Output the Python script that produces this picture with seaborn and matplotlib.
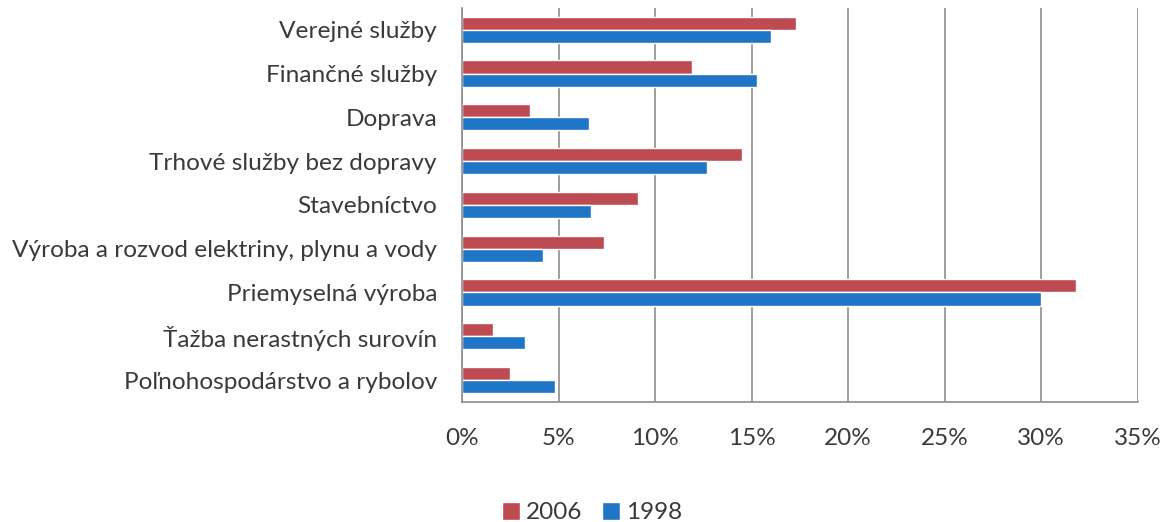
import seaborn as sns
import pandas as pd
import matplotlib.pyplot as plt
from matplotlib.ticker import PercentFormatter, MultipleLocator, FixedLocator

# data (percent share)
categories = [
    "Verejné služby",
    "Finančné služby",
    "Doprava",
    "Trhové služby bez dopravy",
    "Stavebníctvo",
    "Výroba a rozvod elektriny, plynu a vody",
    "Priemyselná výroba",
    "Ťažba nerastných surovín",
    "Poľnohospodárstvo a rybolov",
]
years = ["2006", "1998"]
share_2006 = [17.3, 11.9, 3.5, 14.5, 9.1, 7.35, 31.8, 1.6, 2.5]
share_1998 = [16.0, 15.3, 6.6, 12.7, 6.7, 4.2, 30.0, 3.25, 4.8]
colors = ["#BE4B52", "#1F76C6"]

df = pd.DataFrame({
    "odvetvie": categories * 2,
    "rok": [years[0]] * len(categories) + [years[1]] * len(categories),
    "podiel": share_2006 + share_1998,
})

sns.set_style("white")
plt.rcParams["font.family"] = ["Lato", "DejaVu Sans"]
txt = "#3a3a3a"

fig = plt.figure(figsize=(11.61, 5.22), dpi=100)
ax = fig.add_axes([0.398, 0.230, 0.582, 0.755])

sns.barplot(data=df, x="podiel", y="odvetvie", hue="rok", order=categories,
            hue_order=years, palette=colors, width=0.6, orient="h",
            saturation=1, ax=ax, legend=True)

ax.set_xlim(0, 35)
ax.set_ylim(len(categories) - 0.5, -0.5)
ax.xaxis.set_major_locator(MultipleLocator(5))
ax.xaxis.set_major_formatter(PercentFormatter(decimals=0))
ax.yaxis.set_minor_locator(FixedLocator([i - 0.5 for i in range(len(categories) + 1)]))
ax.grid(axis="x", color="#8c8c8c", linewidth=1.2)
ax.set_axisbelow(True)
ax.set_xlabel("")
ax.set_ylabel("")

for s in ["top", "right"]:
    ax.spines[s].set_visible(False)
for s in ["left", "bottom"]:
    ax.spines[s].set_color("#8c8c8c")
    ax.spines[s].set_linewidth(1.2)

ax.tick_params(axis="x", which="major", direction="out", length=5, color="#8c8c8c",
               labelsize=17.5, labelcolor=txt, pad=14)
ax.tick_params(axis="y", which="major", length=0, labelsize=17.6, labelcolor=txt, pad=18)
ax.tick_params(axis="y", which="minor", direction="out", length=5, color="#8c8c8c")

handles, labels = ax.get_legend_handles_labels()
ax.get_legend().remove()
fig.legend(handles, labels, loc="center", bbox_to_anchor=(0.51, 0.018), ncol=2,
           frameon=False, fontsize=17.5, labelcolor=txt, handlelength=0.75,
           handleheight=0.75, handletextpad=0.25, columnspacing=0.8)

fig.savefig("out.png", dpi=100)
